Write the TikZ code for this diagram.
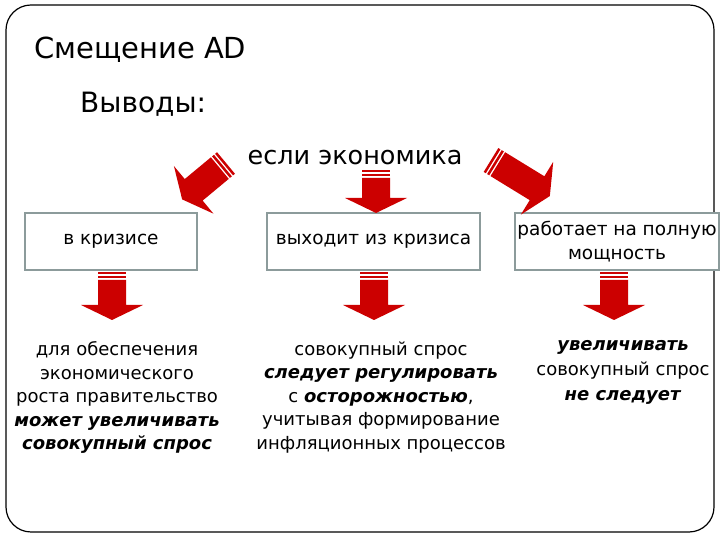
\documentclass[tikz,border=0pt]{standalone}
\usepackage{fontspec}
\setmainfont{DejaVu Sans}
\usetikzlibrary{positioning}

\definecolor{arrowred}{RGB}{204,0,0}
\definecolor{boxgray}{RGB}{140,155,155}

% striped block arrow: #1 = tail point, #2 = direction angle, #3 = total length
\newcommand{\stripedarrow}[3]{%
  \begin{scope}[shift={#1}, rotate=#2]
    \fill[arrowred] (0,-14) rectangle (2.5,14);
    \fill[arrowred] (4,-14) rectangle (6.5,14);
    \fill[arrowred] (8,-14) -- (#3-15,-14) -- (#3-15,-31) -- (#3,0) -- (#3-15,31) -- (#3-15,14) -- (8,14) -- cycle;
  \end{scope}}

\begin{document}
\begin{tikzpicture}[
  x=1pt, y=1pt,
  casebox/.style={rectangle, draw=boxgray, line width=2.5pt, fill=white, align=center, font=\fontsize{18.5}{24}\selectfont, minimum height=57pt, inner sep=1pt},
  bodytext/.style={align=center, font=\fontsize{18}{23.5}\selectfont, inner sep=0pt}
]
  \useasboundingbox (0,0) rectangle (720,540);

  % slide frame
  \draw[line width=1.2pt, rounded corners=25pt] (6,8) rectangle (714,535);

  % headings
  \node[anchor=west, font=\fontsize{29}{36}\selectfont, inner sep=0pt] (title) at (34,490) {Смещение AD};
  \node[anchor=west, font=\fontsize{28}{34}\selectfont, inner sep=0pt] (concl) at (80,436) {Выводы:};
  \node[font=\fontsize{25.5}{30}\selectfont, inner sep=0pt] (econ) at (355,382) {если экономика};

  % three cases
  \node[casebox, minimum width=172pt] (crisis) at (111,298.5) {в кризисе};
  \node[casebox, minimum width=213pt] (exit) at (373.5,298.5) {выходит из кризиса};
  \node[casebox, minimum width=204pt] (full) at (617,298.5) {работает на полную\\мощность};

  % arrows from the question to the cases
  \stripedarrow{(226,377)}{219.7}{57}
  \stripedarrow{(376,370)}{-90}{43}
  \stripedarrow{(491,380)}{-31.5}{69}

  % arrows from the cases to the conclusions
  \stripedarrow{(112,268)}{-90}{48}
  \stripedarrow{(374,268)}{-90}{48}
  \stripedarrow{(614,268)}{-90}{48}

  % conclusions
  \node[bodytext] (concl1) at (117,142.5) {для обеспечения\\экономического\\роста правительство\\\textbf{\textit{может увеличивать}}\\\textbf{\textit{совокупный спрос}}};
  \node[bodytext] (concl2) at (381,142.5) {совокупный спрос\\\textbf{\textit{следует регулировать}}\\с \textbf{\textit{осторожностью}},\\учитывая формирование\\инфляционных процессов};
  \node[bodytext, font=\fontsize{18}{25}\selectfont] (concl3) at (623,168) {\textbf{\textit{увеличивать}}\\совокупный спрос\\\textbf{\textit{не следует}}};

\end{tikzpicture}
\end{document}
